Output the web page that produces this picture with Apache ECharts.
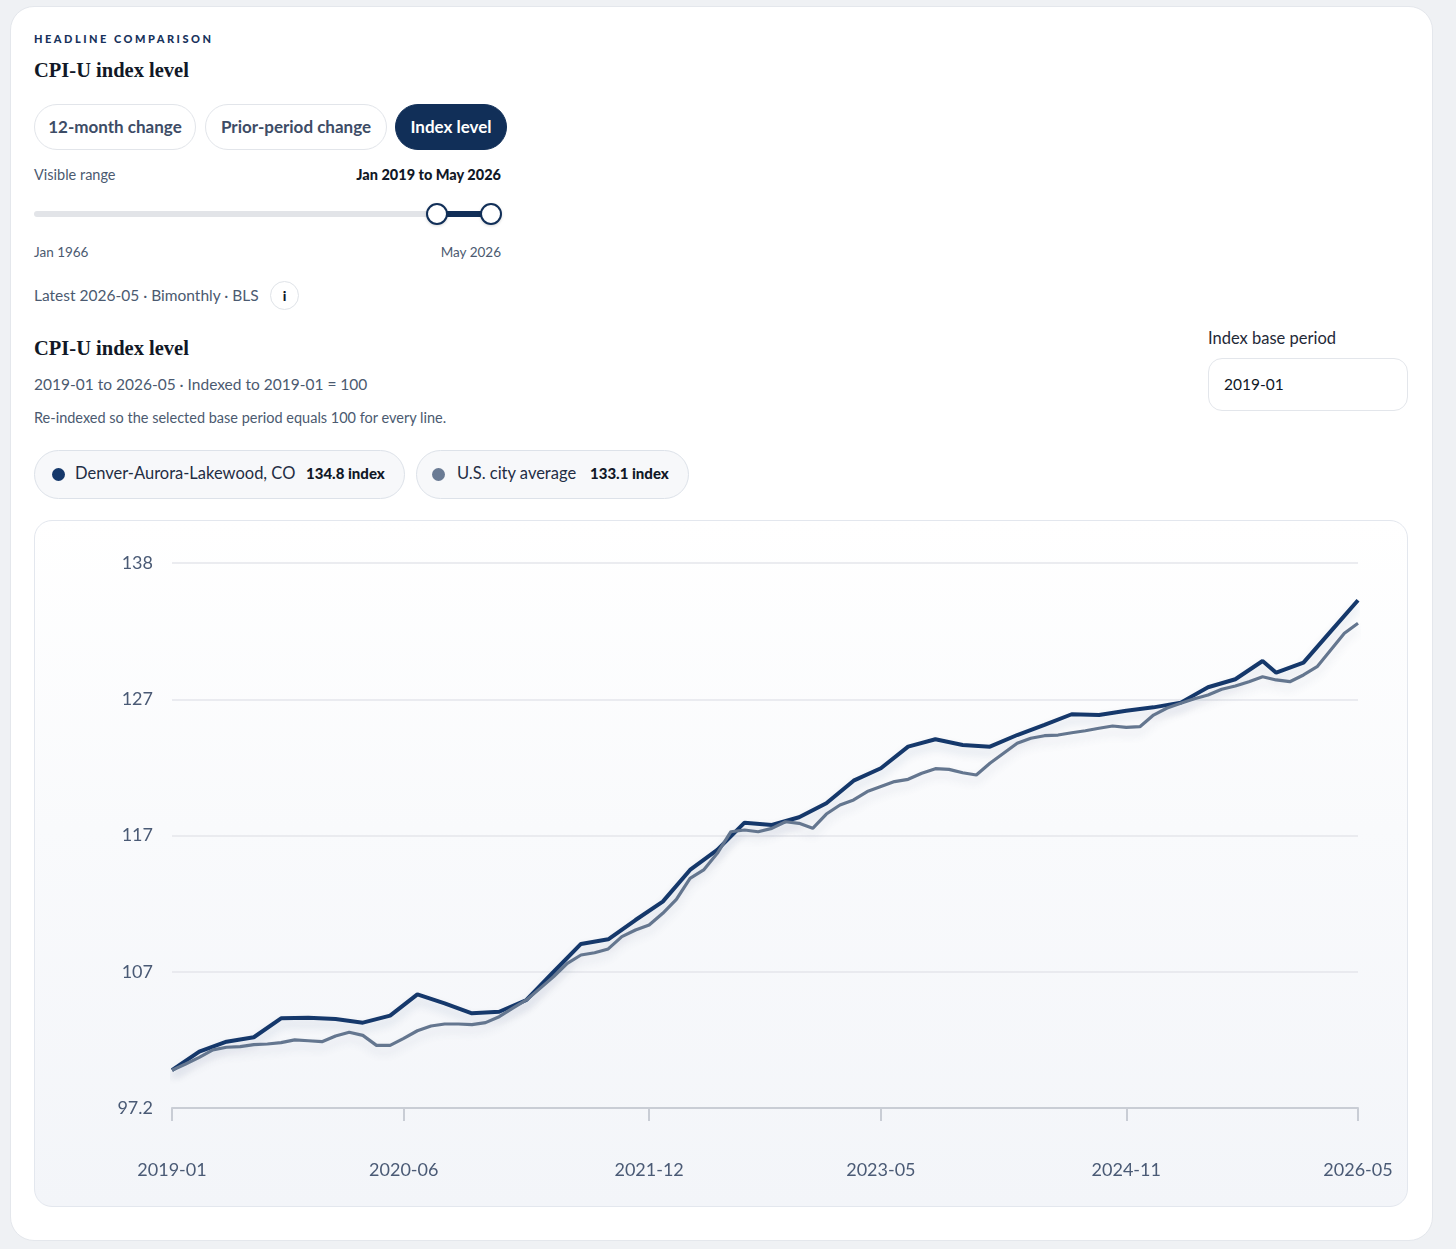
<!DOCTYPE html>
<html>
<head>
<meta charset="utf-8">
<title>CPI-U index level</title>
<script src="https://cdn.jsdelivr.net/npm/echarts@6/dist/echarts.min.js"></script>
<style>
  html, body { margin: 0; padding: 0; }
  body { width: 1456px; height: 1249px; background: #eff1f4; font-family: "Lato", "Noto Sans", sans-serif; position: relative; overflow: hidden; }
  .card { position: absolute; left: 10px; top: 6px; width: 1421px; height: 1233px; background: #fff; border: 1px solid #e4e7ec; border-radius: 24px; }
  .abs { position: absolute; white-space: nowrap; }
  .kicker { left: 34px; top: 32px; font-size: 11px; font-weight: 900; letter-spacing: 2.5px; color: #17325c; }
  .serif { font-family: "Liberation Serif", serif; font-weight: bold; font-size: 20.5px; color: #111827; }
  .pill { top: 104px; height: 44px; border: 1px solid #e2e5ea; border-radius: 24px; font-size: 17px; font-weight: 700; color: #3d4c66; line-height: 44px; text-align: center; background: #fff; }
  .pill.on { background: #112f58; border-color: #112f58; color: #fff; }
  .muted { color: #4b5a70; }
  .track { left: 34px; top: 211px; width: 467px; height: 6px; background: #e2e4e8; border-radius: 3px; }
  .sel { left: 437px; top: 211px; width: 54px; height: 6px; background: #112f58; }
  .knob { top: 203px; width: 18px; height: 18px; border: 2px solid #112f58; background: #fff; border-radius: 50%; box-shadow: 0 1px 3px rgba(0,0,0,0.15); }
  .info { left: 270px; top: 281px; width: 27px; height: 27px; border: 1px solid #dfe3e8; border-radius: 50%; text-align: center; line-height: 27px; font-weight: 900; font-size: 14px; color: #111827; }
  .input { left: 1208px; top: 358px; width: 198px; height: 51px; border: 1px solid #e3e6eb; border-radius: 14px; }
  .chip { top: 450px; height: 47px; border: 1px solid #dde2e9; border-radius: 25px; background: #f7f8fa; }
  .dot { top: 468px; width: 13px; height: 13px; border-radius: 50%; }
  .chiptext { top: 463px; font-size: 16.5px; color: #1f2d44; }
  .chipval { top: 464px; font-size: 15px; font-weight: 900; color: #111827; }
  .chartcard { left: 34px; top: 520px; width: 1372px; height: 685px; border: 1px solid #e3e7ee; border-radius: 18px; background: linear-gradient(180deg, #ffffff 0%, #f9fafc 45%, #f3f5f9 100%); }
  #chart { position: absolute; left: 34px; top: 520px; width: 1374px; height: 687px; }
</style>
</head>
<body>
<div class="card"></div>
<div class="abs kicker">HEADLINE COMPARISON</div>
<div class="abs serif" style="left:34px;top:59px;">CPI-U index level</div>

<div class="abs pill" style="left:34px;width:160px;">12-month change</div>
<div class="abs pill" style="left:205px;width:180px;">Prior-period change</div>
<div class="abs pill on" style="left:395px;width:110px;">Index level</div>

<div class="abs muted" style="left:34px;top:166px;font-size:14.5px;">Visible range</div>
<div class="abs" style="right:955px;top:166px;font-size:14.5px;font-weight:900;color:#111827;">Jan 2019 to May 2026</div>
<div class="abs track"></div>
<div class="abs sel"></div>
<div class="abs knob" style="left:426px;"></div>
<div class="abs knob" style="left:480px;"></div>
<div class="abs muted" style="left:34px;top:244px;font-size:13.5px;">Jan 1966</div>
<div class="abs muted" style="right:955px;top:244px;font-size:13.5px;">May 2026</div>

<div class="abs muted" style="left:34px;top:286px;font-size:15.5px;">Latest 2026-05 · Bimonthly · BLS</div>
<div class="abs info">i</div>

<div class="abs serif" style="left:34px;top:337px;">CPI-U index level</div>
<div class="abs muted" style="left:34px;top:375px;font-size:15.5px;">2019-01 to 2026-05 · Indexed to 2019-01 = 100</div>
<div class="abs muted" style="left:34px;top:409px;font-size:14.5px;">Re-indexed so the selected base period equals 100 for every line.</div>

<div class="abs" style="left:1208px;top:328px;font-size:16.5px;color:#1f2937;">Index base period</div>
<div class="abs input"></div>
<div class="abs" style="left:1224px;top:375px;font-size:15.5px;color:#111827;">2019-01</div>

<div class="abs chip" style="left:34px;width:369px;"></div>
<div class="abs dot" style="left:52px;background:#15386b;"></div>
<div class="abs chiptext" style="left:75px;">Denver-Aurora-Lakewood, CO</div>
<div class="abs chipval" style="left:306px;">134.8 index</div>
<div class="abs chip" style="left:416px;width:271px;"></div>
<div class="abs dot" style="left:432px;background:#6a7b94;"></div>
<div class="abs chiptext" style="left:457px;">U.S. city average</div>
<div class="abs chipval" style="left:590px;">133.1 index</div>

<div class="abs chartcard"></div>
<div id="chart"></div>

<script type="text/javascript">
// months shown (Oct 2025 was never published, so it is not on the axis)
var months = [
  '2019-01','2019-02','2019-03','2019-04','2019-05','2019-06','2019-07','2019-08','2019-09','2019-10','2019-11','2019-12',
  '2020-01','2020-02','2020-03','2020-04','2020-05','2020-06','2020-07','2020-08','2020-09','2020-10','2020-11','2020-12',
  '2021-01','2021-02','2021-03','2021-04','2021-05','2021-06','2021-07','2021-08','2021-09','2021-10','2021-11','2021-12',
  '2022-01','2022-02','2022-03','2022-04','2022-05','2022-06','2022-07','2022-08','2022-09','2022-10','2022-11','2022-12',
  '2023-01','2023-02','2023-03','2023-04','2023-05','2023-06','2023-07','2023-08','2023-09','2023-10','2023-11','2023-12',
  '2024-01','2024-02','2024-03','2024-04','2024-05','2024-06','2024-07','2024-08','2024-09','2024-10','2024-11','2024-12',
  '2025-01','2025-02','2025-03','2025-04','2025-05','2025-06','2025-07','2025-08','2025-09','2025-11','2025-12',
  '2026-01','2026-02','2026-03','2026-04','2026-05'
];

// Denver is bimonthly (odd months), null on the other months
var denverValues = [
  100.00, null, 101.37, null, 102.11, null, 102.44, null, 103.84, null, 103.89, null,
  103.79, null, 103.52, null, 104.04, null, 105.62, null, 104.95, null, 104.21, null,
  104.33, null, 105.20, null, 107.29, null, 109.35, null, 109.69, null, 111.12, null,
  112.48, null, 114.83, null, 116.31, null, 118.33, null, 118.16, null, 118.73, null,
  119.77, null, 121.44, null, 122.36, null, 123.96, null, 124.51, null, 124.08, null,
  123.96, null, 124.82, null, 125.57, null, 126.36, null, 126.31, null, 126.62, null,
  126.87, null, 127.22, null, 128.36, null, 128.95, null, 130.30, 129.44, null,
  130.18, null, 132.50, null, 134.80
];

var usValues = [
  100.00, 100.46, 100.95, 101.50, 101.70, 101.74, 101.89, 101.94, 102.04, 102.24, 102.18, 102.11,
  102.53, 102.81, 102.58, 101.84, 101.84, 102.36, 102.92, 103.27, 103.42, 103.42, 103.37, 103.52,
  103.96, 104.60, 105.20, 106.06, 106.93, 107.91, 108.53, 108.70, 108.98, 109.89, 110.38, 110.75,
  111.62, 112.65, 114.21, 114.83, 116.06, 117.66, 117.79, 117.66, 117.91, 118.40, 118.28, 117.91,
  118.97, 119.64, 120.01, 120.63, 121.00, 121.37, 121.54, 121.99, 122.33, 122.28, 122.03, 121.86,
  122.73, 123.47, 124.21, 124.58, 124.77, 124.82, 124.99, 125.14, 125.32, 125.49, 125.39, 125.44,
  126.30, 126.82, 127.17, 127.51, 127.79, 128.21, 128.45, 128.77, 129.14, 128.90, 128.77,
  129.27, 129.88, 131.12, 132.36, 133.10
];

var xLabels = ['2019-01', '2020-06', '2021-12', '2023-05', '2024-11', '2026-05'];
var yMin = 97.2, yMax = 137.56;

var axisFont = '"Lato", "Noto Sans", sans-serif';
var showLabel = function (idx, val) { return xLabels.indexOf(val) >= 0; };

var myChart = echarts.init(document.getElementById('chart'));
var option = {
    animation: false,
    grid: { left: 138, right: 50, top: 43, bottom: 99 },
    xAxis: {
        type: 'category',
        data: months,
        boundaryGap: false,
        axisLine: { lineStyle: { color: '#c9cdd5', width: 2 } },
        axisTick: { show: true, length: 13, interval: showLabel, lineStyle: { color: '#c9cdd5', width: 2 } },
        axisLabel: { interval: showLabel, margin: 53, fontSize: 18, color: '#4a5a75', fontFamily: axisFont },
        splitLine: { show: false }
    },
    yAxis: {
        type: 'value',
        min: yMin,
        max: yMax,
        interval: (yMax - yMin) / 4,
        axisLine: { show: false },
        axisTick: { show: false },
        axisLabel: {
            margin: 19, fontSize: 18, color: '#4a5a75', fontFamily: axisFont,
            formatter: function (v) { return String(Number(v.toPrecision(3))); }
        },
        splitLine: { lineStyle: { color: '#e4e6eb', width: 1.5 } }
    },
    series: [
        {
            name: 'Denver-Aurora-Lakewood, CO',
            type: 'line',
            data: denverValues,
            connectNulls: true,
            symbol: 'none',
            lineStyle: { color: '#15386b', width: 4, shadowColor: 'rgba(21,56,107,0.16)', shadowBlur: 10, shadowOffsetY: 6 }
        },
        {
            name: 'U.S. city average',
            type: 'line',
            data: usValues,
            symbol: 'none',
            lineStyle: { color: '#64768f', width: 3.2, shadowColor: 'rgba(60,80,110,0.14)', shadowBlur: 10, shadowOffsetY: 6 }
        }
    ]
};
myChart.setOption(option);
</script>
</body>
</html>
